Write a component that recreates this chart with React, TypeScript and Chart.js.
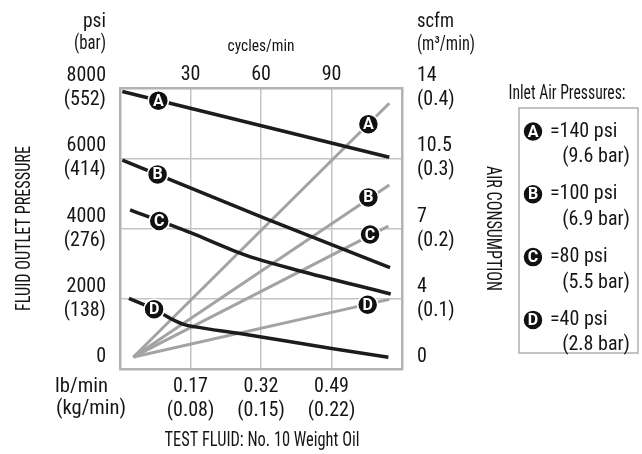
import React, { useEffect, useRef } from "react";
import { Chart, registerables } from "chart.js";

Chart.register(...registerables);

// ---- data ----
const seriesLetters = ["A", "B", "C", "D"];
const inletPsi = ["140", "100", "80", "40"];
const inletBar = ["9.6", "6.9", "5.5", "2.8"];

// Fluid outlet pressure (psi) vs cycles/min
const outletA = [[1.0, 7900], [114.6, 6030]];
const outletB = [[1.0, 5950], [61.7, 4290], [114.9, 2884]];
const outletC = [[4.3, 4530], [30, 3880], [48, 3380], [58, 3140], [75, 2820], [115.2, 2136]];
const outletD = [[3.8, 2010], [14.5, 1700], [22, 1420], [27, 1270], [32, 1200], [51, 1010], [89.4, 590], [114.2, 335]];

// Air consumption (scfm) vs cycles/min
const airA = [[5.7, 0.6], [114.6, 13.24]];
const airB = [[5.7, 0.6], [114.6, 9.17]];
const airC = [[5.7, 0.6], [114.2, 7.12]];
const airD = [[5.7, 0.6], [114.6, 3.47]];

// letter badges
const outletMarkers = [[16.3, 7640], [16.0, 5540], [16.7, 4215], [14.5, 1700]];
const airMarkers = [[105.7, 12.2], [105.7, 8.55], [106.4, 6.7], [105.4, 3.2]];

// ticks
const cycleTicks = [30, 60, 90];
const lbLabels = ["0.17", "0.32", "0.49"];
const kgLabels = ["(0.08)", "(0.15)", "(0.22)"];
const psiTicks = [0, 2000, 4000, 6000, 8000];
const barLabels = ["", "(138)", "(276)", "(414)", "(552)"];
const scfmTicks = [0, 3.5, 7, 10.5, 14];
const scfmLabels = ["0", "4", "7", "10.5", "14"];
const m3Labels = ["", "(0.1)", "(0.2)", "(0.3)", "(0.4)"];

// ---- styles ----
const FONT = '"Roboto Condensed", Roboto, sans-serif';
const INK = "#151515";
const BLACK_LINE = "#1c1c1c";
const GRAY_LINE = "#a3a3a3";
const GRID = "#c4c4c4";
const BORDER = "#b2b2b2";
const BADGE_R = 10;

const toXY = (arr: number[][]) => arr.map(([x, y]) => ({ x, y }));

function txt(ctx: CanvasRenderingContext2D, s: string, x: number, y: number, o: any = {}) {
  const { size = 20, align = "left", width, rot = 0, weight = "normal", color = INK, family = FONT } = o;
  ctx.save();
  ctx.font = `${weight} ${size}px ${family}`;
  const m = ctx.measureText(s).width;
  const sx = width ? width / m : 1;
  ctx.translate(x, y);
  if (rot) ctx.rotate(rot);
  ctx.scale(sx, 1);
  ctx.textAlign = align;
  ctx.textBaseline = "middle";
  ctx.fillStyle = color;
  ctx.fillText(s, 0, 0);
  ctx.restore();
}

function badgeLetter(ctx: CanvasRenderingContext2D, letter: string, x: number, y: number) {
  txt(ctx, letter, x, y + 1, { size: 16, weight: "bold", align: "center", color: "#fff", family: "Roboto, sans-serif" });
}

function badge(ctx: CanvasRenderingContext2D, letter: string, x: number, y: number, r: number) {
  ctx.save();
  ctx.beginPath();
  ctx.arc(x, y, r, 0, Math.PI * 2);
  ctx.fillStyle = "#111";
  ctx.fill();
  ctx.lineWidth = 1.5;
  ctx.strokeStyle = "#fff";
  ctx.stroke();
  ctx.restore();
  badgeLetter(ctx, letter, x, y);
}

const decorations = {
  id: "decorations",
  afterDatasetsDraw(chart: any) {
    const ctx = chart.ctx as CanvasRenderingContext2D;
    chart.data.datasets.forEach((ds: any, i: number) => {
      if (!ds.isBadge) return;
      const meta = chart.getDatasetMeta(i);
      meta.data.forEach((pt: any, j: number) => badgeLetter(ctx, seriesLetters[j], pt.x, pt.y));
    });
  },
  afterDraw(chart: any) {
    const ctx = chart.ctx as CanvasRenderingContext2D;
    const ca = chart.chartArea;
    const cx = (ca.left + ca.right) / 2;
    const cy = (ca.top + ca.bottom) / 2;

    // unit labels
    txt(ctx, "psi", ca.left - 14, 22, { align: "right", width: 23 });
    txt(ctx, "(bar)", ca.left - 14, 44, { align: "right", width: 32 });
    txt(ctx, "scfm", ca.right + 15, 22, { width: 37 });
    txt(ctx, "(m³/min)", ca.right + 15, 45, { width: 58 });
    txt(ctx, "cycles/min", cx, 47, { size: 17, align: "center", width: 67 });
    txt(ctx, "lb/min", 55, 387, { width: 53 });
    txt(ctx, "(kg/min)", 56, 409, { width: 70 });

    // axis titles
    txt(ctx, "TEST FLUID: No. 10 Weight Oil", cx + 1, 441, { align: "center", width: 195 });
    txt(ctx, "FLUID OUTLET PRESSURE", 25, cy, { align: "center", width: 165, rot: -Math.PI / 2 });
    txt(ctx, "AIR CONSUMPTION", 492, cy, { align: "center", width: 125, rot: Math.PI / 2 });

    // legend
    txt(ctx, "Inlet Air Pressures:", 567, 94, { align: "center", width: 117 });
    ctx.save();
    ctx.strokeStyle = "#b0b0b0";
    ctx.lineWidth = 1.5;
    ctx.strokeRect(519, 108, 119, 245);
    ctx.restore();
    seriesLetters.forEach((L, i) => {
      const y = 131.5 + i * 62.8;
      badge(ctx, L, 533, y, BADGE_R);
      txt(ctx, `=${inletPsi[i]} psi`, 550, y, { size: 20 });
      txt(ctx, `(${inletBar[i]} bar)`, 630, y + 25.5, { size: 20, align: "right" });
    });
  },
};

const lineDs = (data: number[][], color: string, yAxisID: string, width: number, smooth = false) => ({
  type: "line",
  data: toXY(data),
  borderColor: color,
  borderWidth: width,
  pointRadius: 0,
  fill: false,
  xAxisID: "x",
  yAxisID,
  cubicInterpolationMode: smooth ? "monotone" : "default",
  order: yAxisID === "y" ? 1 : 2,
  borderCapStyle: "butt",
});

const badgeDs = (data: number[][], yAxisID: string) => ({
  type: "scatter",
  isBadge: true,
  data: toXY(data),
  pointRadius: BADGE_R,
  pointBackgroundColor: "#111",
  pointBorderColor: "#fff",
  pointBorderWidth: 1.5,
  xAxisID: "x",
  yAxisID,
  order: 0,
});

const tickFont = { size: 20, family: FONT };

export default function App() {
  const ref = useRef<HTMLCanvasElement>(null);
  useEffect(() => {
    const chart = new Chart(ref.current!, {
      type: "line",
      data: {
        datasets: [
          badgeDs(outletMarkers, "y"),
          badgeDs(airMarkers, "y2"),
          lineDs(outletA, BLACK_LINE, "y", 3.5),
          lineDs(outletB, BLACK_LINE, "y", 3.5),
          lineDs(outletC, BLACK_LINE, "y", 3.5, true),
          lineDs(outletD, BLACK_LINE, "y", 3.5, true),
          lineDs(airA, GRAY_LINE, "y2", 3),
          lineDs(airB, GRAY_LINE, "y2", 3),
          lineDs(airC, GRAY_LINE, "y2", 3),
          lineDs(airD, GRAY_LINE, "y2", 3),
        ] as any,
      },
      options: {
        animation: false,
        responsive: false,
        events: [],
        layout: { padding: { left: 0, top: 0, right: 135, bottom: 0 } },
        plugins: { legend: { display: false }, tooltip: { enabled: false }, title: { display: false } },
        scales: {
          x: {
            type: "linear",
            position: "bottom",
            min: 0,
            max: 120,
            afterFit: (s: any) => { s.height = 85; },
            afterBuildTicks: (s: any) => { s.ticks = cycleTicks.map((v) => ({ value: v })); },
            ticks: {
              autoSkip: false,
              maxRotation: 0,
              padding: 6,
              color: INK,
              font: tickFont,
              callback: (_v: any, i: number) => [lbLabels[i], kgLabels[i]],
            },
            grid: { color: GRID, lineWidth: 1.5, drawTicks: false },
            border: { display: true, color: BORDER, width: 2.5 },
          },
          xTop: {
            type: "linear",
            position: "top",
            min: 0,
            max: 120,
            afterFit: (s: any) => { s.height = 88; },
            afterBuildTicks: (s: any) => { s.ticks = cycleTicks.map((v) => ({ value: v })); },
            ticks: {
              autoSkip: false,
              maxRotation: 0,
              padding: 1,
              color: INK,
              font: tickFont,
              callback: (_v: any, i: number) => String(cycleTicks[i]),
            },
            grid: { display: false, drawTicks: false },
            border: { display: true, color: BORDER, width: 2.5 },
          },
          y: {
            type: "linear",
            position: "left",
            min: 0,
            max: 8000,
            afterFit: (s: any) => { s.width = 120; },
            afterBuildTicks: (s: any) => { s.ticks = psiTicks.map((v) => ({ value: v })); },
            ticks: {
              autoSkip: false,
              padding: 14,
              color: INK,
              font: tickFont,
              callback: (_v: any, i: number) => [String(psiTicks[i]), barLabels[i]],
            },
            grid: { color: GRID, lineWidth: 1.5, drawTicks: false },
            border: { display: true, color: BORDER, width: 2.5 },
          },
          y2: {
            type: "linear",
            position: "right",
            min: 0,
            max: 14,
            afterFit: (s: any) => { s.width = 105; },
            afterBuildTicks: (s: any) => { s.ticks = scfmTicks.map((v) => ({ value: v })); },
            ticks: {
              autoSkip: false,
              padding: 15,
              color: INK,
              font: tickFont,
              callback: (_v: any, i: number) => [scfmLabels[i], m3Labels[i]],
            },
            grid: { display: false, drawTicks: false },
            border: { display: true, color: BORDER, width: 2.5 },
          },
        },
      } as any,
      plugins: [decorations],
    } as any);
    return () => chart.destroy();
  }, []);
  return (
    <div style={{ position: "fixed", left: 0, top: 0, width: 642, height: 454, background: "#fff" }}>
      <canvas ref={ref} width={642} height={454} style={{ display: "block", width: 642, height: 454 }} />
    </div>
  );
}
